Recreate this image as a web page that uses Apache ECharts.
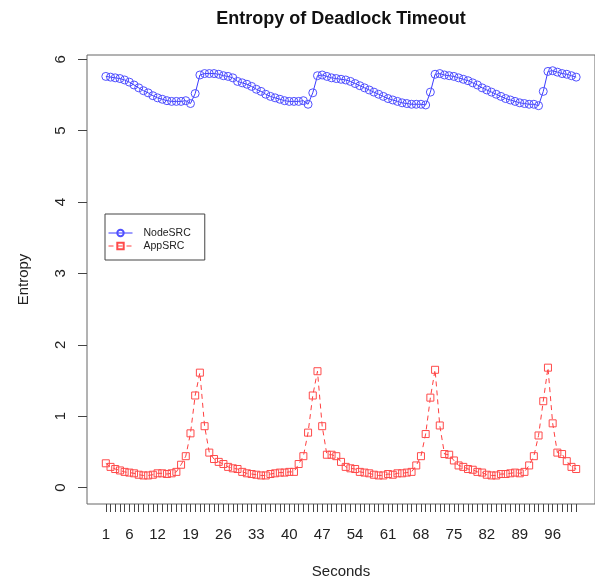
<!DOCTYPE html>
<html>
<head>
<meta charset="utf-8">
<script src="https://cdn.jsdelivr.net/npm/echarts@6/dist/echarts.min.js"></script>
<style>
html,body{margin:0;padding:0;background:#fff;}
#chart{width:595px;height:584px;}
</style>
</head>
<body>
<div id="chart"></div>
<script>
var seconds = [1,2,3,4,5,6,7,8,9,10,11,12,13,14,15,16,17,18,19,20,21,22,23,24,25,26,27,28,29,30,31,32,33,34,35,36,37,38,39,40,41,42,43,44,45,46,47,48,49,50,51,52,53,54,55,56,57,58,59,60,61,62,63,64,65,66,67,68,69,70,71,72,73,74,75,76,77,78,79,80,81,82,83,84,85,86,87,88,89,90,91,92,93,94,95,96,97,98,99,100,101];

var nodeSRC = [5.76,5.75,5.74,5.73,5.71,5.68,5.64,5.60,5.56,5.53,5.49,5.46,5.44,5.42,5.41,5.41,5.41,5.42,5.38,5.52,
  5.78,5.80,5.80,5.80,5.79,5.77,5.76,5.74,5.69,5.67,5.65,5.62,5.58,5.55,5.51,5.48,5.46,5.44,5.42,5.41,5.41,5.41,5.42,5.37,5.53,
  5.77,5.78,5.76,5.74,5.73,5.72,5.71,5.69,5.66,5.63,5.60,5.57,5.54,5.51,5.48,5.45,5.43,5.41,5.39,5.38,5.37,5.37,5.37,5.36,5.54,
  5.79,5.80,5.78,5.77,5.76,5.74,5.72,5.70,5.67,5.64,5.60,5.57,5.54,5.51,5.48,5.45,5.43,5.41,5.39,5.38,5.37,5.37,5.35,5.55,
  5.83,5.84,5.82,5.80,5.79,5.77,5.75];

var appSRC = [0.34,0.29,0.26,0.24,0.22,0.21,0.20,0.18,0.17,0.17,0.18,0.20,0.20,0.19,0.20,0.22,0.32,0.44,0.76,1.29,
  1.61,0.86,0.49,0.40,0.36,0.33,0.29,0.27,0.26,0.22,0.20,0.19,0.18,0.17,0.17,0.19,0.20,0.21,0.21,0.22,0.22,0.33,0.44,0.77,1.29,
  1.63,0.86,0.46,0.46,0.44,0.36,0.29,0.27,0.26,0.22,0.21,0.20,0.18,0.17,0.17,0.19,0.18,0.20,0.20,0.21,0.22,0.31,0.44,0.75,1.26,
  1.65,0.87,0.47,0.46,0.38,0.31,0.29,0.26,0.25,0.22,0.21,0.18,0.17,0.17,0.19,0.19,0.20,0.21,0.20,0.22,0.31,0.44,0.73,1.21,
  1.68,0.90,0.49,0.47,0.37,0.29,0.26];

var xTickLabels = [1,6,12,19,26,33,40,47,54,61,68,75,82,89,96];
var yTickLabels = [0,1,2,3,4,5,6];

var FONT = "'Liberation Sans', Arial, Helvetica, sans-serif";

function pairs(xs, ys) {
  var out = [];
  for (var i = 0; i < xs.length; i++) out.push([xs[i], ys[i]]);
  return out;
}

var chart = echarts.init(document.getElementById('chart'), null, {renderer: 'canvas'});
chart.setOption({
  animation: false,
  backgroundColor: '#ffffff',
  textStyle: {fontFamily: FONT},
  title: {
    text: 'Entropy of Deadlock Timeout',
    left: 341,
    textAlign: 'center',
    top: 10,
    padding: 0,
    textStyle: {fontSize: 18, fontWeight: 'bold', color: '#111', fontFamily: FONT}
  },
  legend: {
    orient: 'vertical',
    left: 105,
    top: 214,
    padding: [13, 14, 8, 3],
    itemGap: 1,
    itemWidth: 24,
    itemHeight: 8,
    borderColor: '#444',
    borderWidth: 1,
    lineStyle: {width: 1},
    textStyle: {fontSize: 10.5, lineHeight: 12, color: '#222', fontFamily: FONT, padding: [0, 0, 0, 6]},
    data: ['NodeSRC', 'AppSRC']
  },
  grid: {
    left: 87,
    top: 55,
    width: 509,
    height: 452,
    show: true,
    borderColor: '#666',
    borderWidth: 1,
    backgroundColor: 'transparent'
  },
  xAxis: {
    type: 'value',
    min: -3,
    max: 105,
    name: 'Seconds',
    nameLocation: 'middle',
    nameGap: 60,
    nameTextStyle: {fontSize: 15, color: '#222', fontFamily: FONT},
    axisLine: {show: false, onZero: false},
    splitLine: {show: false},
    axisTick: {show: true, inside: false, length: 8, lineStyle: {color: '#444'}, customValues: seconds},
    axisLabel: {show: true, fontSize: 15, color: '#222', margin: 23, fontFamily: FONT, customValues: xTickLabels}
  },
  yAxis: {
    type: 'value',
    min: -0.23,
    max: 6.06,
    name: 'Entropy',
    nameLocation: 'middle',
    nameRotate: 90,
    nameGap: 56,
    nameTextStyle: {fontSize: 15, color: '#222', fontFamily: FONT},
    axisLine: {show: false, onZero: false},
    splitLine: {show: false},
    axisTick: {show: true, inside: false, length: 9, lineStyle: {color: '#444'}, customValues: yTickLabels},
    axisLabel: {show: true, fontSize: 15, color: '#222', margin: 19, rotate: 90, fontFamily: FONT, customValues: yTickLabels}
  },
  series: [
    {
      type: 'line',
      name: 'NodeSRC',
      data: pairs(seconds, nodeSRC),
      symbol: 'circle',
      symbolSize: 8,
      lineStyle: {color: '#3b3bff', width: 1},
      itemStyle: {color: 'rgba(0,0,0,0)', borderColor: '#5050ff', borderWidth: 1}
    },
    {
      type: 'line',
      name: 'AppSRC',
      data: pairs(seconds, appSRC),
      symbol: 'rect',
      symbolSize: 7,
      lineStyle: {color: '#ff4040', width: 1, type: [5, 4]},
      itemStyle: {color: 'rgba(0,0,0,0)', borderColor: '#ff4a4a', borderWidth: 1}
    }
  ]
});
</script>
</body>
</html>
